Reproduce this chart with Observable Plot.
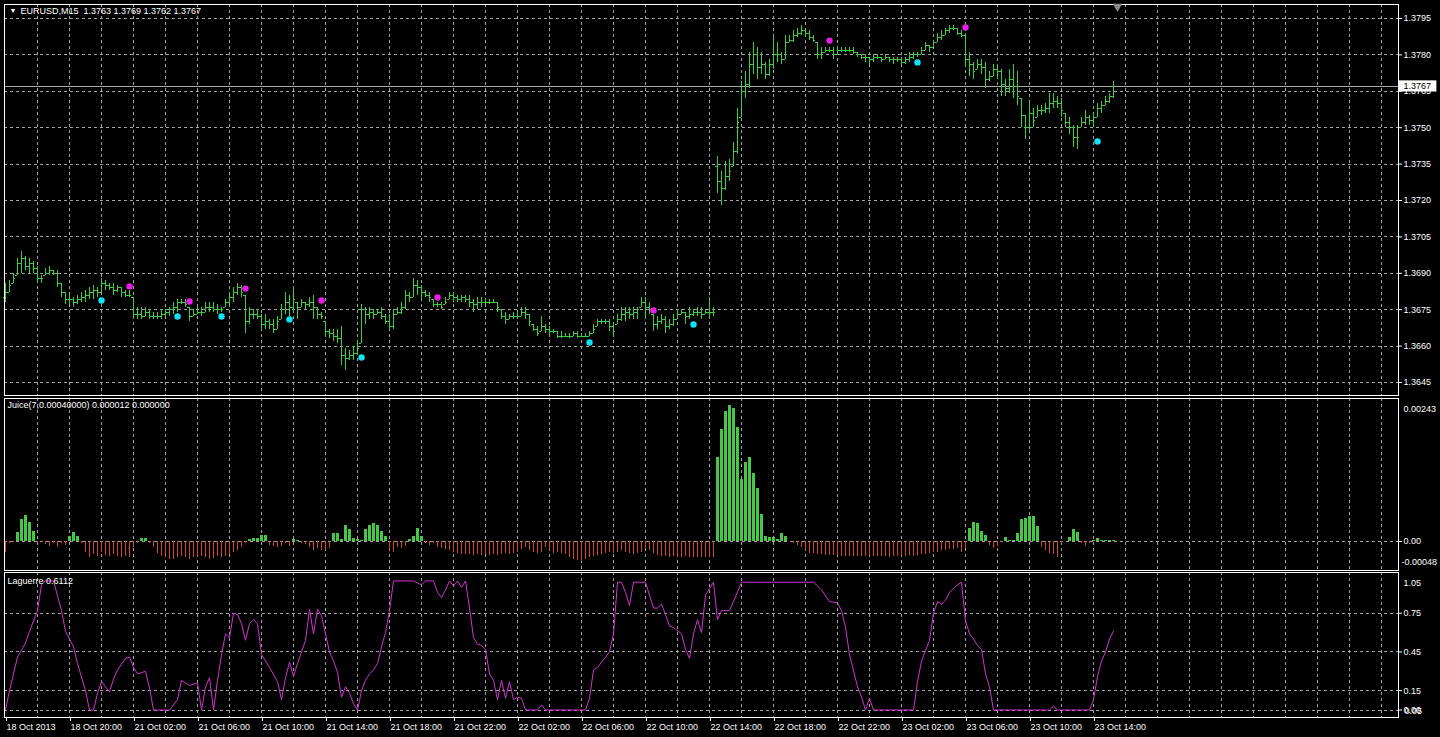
<!DOCTYPE html>
<html><head><meta charset="utf-8">
<script src="https://cdn.jsdelivr.net/npm/d3@7"></script>
<script src="https://cdn.jsdelivr.net/npm/@observablehq/plot@0.6"></script>
<style>
html,body{margin:0;padding:0;background:#000;}
#chart{position:relative;width:1440px;height:737px;background:#000;overflow:hidden;}
#chart svg{position:absolute;left:0;}
</style></head><body><div id="chart"></div>
<script>
// ---------------- DATA ----------------
// Prices are stored as pips above 1.3600 (e.g. 95 -> 1.3695)
const PIP_BASE = 1.36;
const symbolTitle = "EURUSD,M15";
const headerOHLC = ["1.3763", "1.3769", "1.3762", "1.3767"];

const opens = [
80,82,86,89,94,96,93,94,92,88, 89,90,91,90,86,82,79,79,78,79,
80,81,82,83,82,86,85,84,83,84, 82,81,80,73,73,72,74,72,72,72,
73,74,75,76,78,78,76,72,73,74, 74,76,76,75,75,76,78,80,82,84,
81,70,73,73,72,69,70,69,67,71, 75,78,76,78,76,78,77,78,76,73,
70,66,65,64,63,56,55,56,57,61, 75,73,74,73,74,72,70,68,73,74,
76,81,80,85,84,82,81,79,77,77, 77,79,81,80,79,80,79,78,77,78,
78,78,78,78,75,72,71,72,72,72, 74,73,69,67,66,68,67,66,66,64,
64,64,64,65,64,64,64,65,68,70, 70,70,68,69,71,73,74,73,74,76,
78,76,73,69,70,71,68,69,71,73, 74,72,73,74,74,73,74,74,134,128,
125,130,134,140,154,165,168,176,180,175, 176,172,176,180,180,178,185,186,188,189,
190,189,187,185,180,181,182,182,180,182, 182,182,182,181,180,179,179,178,179,179,
178,179,178,178,178,177,178,179,180,180, 182,184,183,185,187,188,190,191,191,189,
188,178,176,174,176,175,170,171,174,173, 168,166,170,167,162,155,150,156,154,157,
157,158,160,161,160,156,152,150,146,150, 152,154,153,154,158,159,161,163];

const highs = [
86,87,90,96,99,97,96,95,93,89, 92,93,91,91,86,82,81,80,81,82,
83,84,85,84,88,87,86,86,85,84, 83,83,80,76,76,76,75,74,74,75,
75,76,78,79,79,79,76,75,76,76, 78,78,78,77,76,79,82,84,86,85,
81,76,75,75,73,73,71,71,72,77, 82,81,84,78,79,78,80,81,76,74,
70,67,67,67,68,59,58,60,62,77, 76,76,75,75,76,73,73,75,76,78,
83,82,88,87,85,83,82,79,78,78, 80,82,82,81,81,81,81,79,80,80,
79,79,79,78,75,74,73,74,74,76, 76,73,69,68,72,69,68,67,66,66,
65,65,66,66,65,65,66,69,71,71, 71,71,69,73,76,76,76,76,76,80,
80,78,73,72,73,72,71,73,75,75, 74,76,75,76,76,75,80,76,138,132,
136,137,144,158,169,173,181,185,183,181, 177,178,188,185,181,188,188,190,191,192,
190,190,188,185,183,183,183,183,183,183, 183,183,183,181,180,180,179,180,180,179,
180,179,179,179,179,179,181,181,181,183, 185,184,186,189,190,191,192,192,191,190,
189,181,177,178,178,177,173,176,176,174, 170,174,176,173,162,155,161,158,159,159,
160,164,164,163,162,156,154,151,151,154, 157,155,156,160,161,163,164,169];

const lows = [
78,82,86,89,90,91,90,90,86,86, 89,89,89,84,80,77,77,76,77,78,
78,79,79,80,82,83,83,81,82,80, 80,80,71,71,71,72,71,71,71,71,
72,72,73,74,77,76,70,72,73,72, 74,74,74,73,74,76,77,78,81,80,
65,69,71,71,67,67,67,65,67,71, 73,72,74,71,76,75,76,71,71,71,
64,63,62,61,52,50,54,54,56,61, 69,71,71,73,71,69,67,67,73,73,
75,78,80,81,79,80,78,76,76,75, 77,79,78,78,78,78,76,74,75,76,
77,77,78,74,71,69,71,71,71,72, 71,68,66,64,66,65,64,65,63,63,
64,63,64,63,64,64,64,65,68,69, 69,66,64,69,70,70,71,71,71,76,
71,73,66,67,69,65,67,68,71,73, 69,71,72,72,71,73,71,72,123,118,
124,128,134,139,154,162,166,172,170,172, 170,171,174,177,176,178,185,185,187,188,
187,186,185,178,178,181,181,178,180,181, 181,181,180,179,178,177,176,177,178,177,
178,177,176,177,176,176,177,178,179,180, 182,181,183,185,186,188,189,190,188,187,
175,171,170,174,172,166,169,171,170,163, 163,164,162,159,150,145,149,150,154,155,
156,156,158,158,154,150,147,142,141,150, 151,151,150,154,156,159,160,162];

const closes = [
82,85,88,94,96,93,94,92,88,88, 90,91,90,86,82,79,79,78,79,80,
81,82,83,82,86,85,84,83,84,82, 81,81,73,73,72,74,72,72,72,73,
74,75,76,78,78,77,72,73,74,74, 76,76,75,75,75,78,80,82,84,82,
70,73,73,72,69,70,69,67,70,75, 78,76,79,76,78,77,78,76,73,72,
66,65,64,63,56,55,56,57,59,75, 73,74,73,74,72,70,68,73,74,76,
81,80,85,84,82,81,80,77,77,76, 78,81,80,79,80,79,78,77,78,78,
78,78,78,76,72,71,72,72,72,74, 73,70,67,65,68,67,66,66,64,64,
64,64,65,64,64,64,65,67,70,70, 70,68,66,71,73,74,73,74,75,78,
76,75,69,70,71,68,69,71,73,74, 72,73,74,74,73,74,74,74,128,125,
130,132,140,152,165,168,176,180,175,176, 172,176,180,180,178,185,186,188,189,190,
189,187,186,180,181,182,182,180,182,182, 182,182,181,180,179,179,178,179,179,178,
179,178,178,178,177,178,179,180,180,182, 184,183,185,187,188,190,191,191,189,188,
178,176,173,176,175,170,171,174,173,168, 166,170,167,163,155,150,156,153,157,157,
158,160,161,160,157,152,150,146,146,152, 154,153,154,158,159,161,163,167];

// Signal dots (bar index, price in pips)
const sellDotBars = [31, 46, 60, 79, 108, 162, 206, 240];
const sellDotPrices = [84.6, 78.4, 83.7, 78.8, 80.0, 74.7, 185.9, 191.3];
const buyDotBars = [24, 43, 54, 71, 89, 146, 172, 228, 273];
const buyDotPrices = [78.8, 72.2, 72.2, 71.0, 55.3, 61.5, 68.9, 176.9, 144.3];

// Juice histogram, units of 0.00001
const juice = [
-18,-4,-1,15,37,44,32,18,-3,-2, -5,-8,-3,-10,-4,-6,9,16,8,-3,
-18,-28,-22,-26,-18,-24,-26,-22,-26,-28, -26,-28,-10,-3,6,5,-4,-10,-20,-25,
-28,-30,-30,-28,-26,-28,-30,-28,-25,-26, -28,-30,-29,-26,-28,-25,-22,-18,-15,-10,
-4,4,6,6,10,10,-6,-8,-10,-8, -4,-8,4,2,-3,-5,-10,-15,-12,-16,
-15,-12,13,13,3,28,20,6,4,2, 21,27,30,27,18,9,-15,-18,-10,-12,
-8,4,9,22,9,-3,-6,-4,-10,-12, -14,-16,-18,-20,-22,-22,-22,-24,-22,-24,
-22,-24,-22,-24,-22,-20,-22,-20,-18,-14, -10,-16,-18,-20,-18,-10,-16,-20,-18,-20,
-22,-28,-30,-32,-34,-30,-28,-26,-24,-22, -20,-18,-20,-18,-16,-18,-20,-22,-20,-18,
-14,-16,-20,-24,-26,-26,-28,-26,-28,-28, -26,-28,-28,-28,-28,-28,-28,-28,144,192,
223,232,227,196,106,135,144,117,90,46, 9,7,7,3,13,9,0,-3,-6,-10,
-16,-20,-20,-22,-22,-24,-24,-24,-24,-26, -26,-26,-26,-26,-26,-26,-26,-26,-26,-26,
-26,-28,-26,-26,-26,-26,-24,-26,-24,-22, -22,-20,-18,-18,-16,-16,-14,-14,-12,-18,
-12,23,33,30,18,10,-6,-12,-8,-2, 7,1,1,14,38,39,42,42,26,-10,
-16,-20,-22,-28,-3,0,7,20,16,-3, -8,-3,1,6,1,2,1,2];

// Laguerre line vertices (bar index, value)
const lagBars = [0,1,3,5,6,8,9,10,12,14,15,17,18,20,21,22,23,24,26,27,28,30,31,32,33,34,35,36,37,41,43,44,46,48,49,50,51,52,53,54,55,56,57,58,59,60,61,62,63,64,66,68,69,70,71,72,73,75,76,77,78,79,80,81,82,83,84,85,86,87,88,89,90,91,92,93,94,95,96,97,102,104,105,107,108,109,110,111,112,113,114,115,116,117,118,119,120,121,122,123,124,125,126,127,128,129,130,133,134,135,145,146,147,148,149,150,151,152,153,154,155,156,157,160,161,162,163,164,165,166,167,169,170,171,172,173,174,175,176,177,178,179,181,182,184,202,204,206,208,209,210,211,213,214,215,216,217,227,228,229,231,232,233,234,235,236,238,239,240,241,242,243,244,245,246,247,261,262,263,271,272,273,274,275,276,277];
const lagValues = [0,0.15,0.41,0.52,0.61,0.77,0.97,1.0,1.0,0.77,0.61,0.49,0.36,0.15,0,0,0.13,0.22,0.14,0.24,0.31,0.40,0.41,0.33,0.28,0.29,0.30,0.17,0,0,0.08,0.23,0.19,0.21,0,0.18,0.25,0,0.23,0.43,0.59,0.56,0.75,0.74,0.67,0.54,0.67,0.70,0.67,0.43,0.33,0.22,0.08,0.25,0.37,0.26,0.36,0.54,0.78,0.59,0.78,0.73,0.59,0.45,0.38,0.29,0.10,0.18,0.13,0.05,0,0.15,0.23,0.28,0.31,0.36,0.49,0.60,0.77,1.0,1.0,0.97,1.0,1.0,0.91,0.87,0.93,1.0,0.96,1.0,0.95,1.0,0.79,0.56,0.51,0.50,0.47,0.28,0.23,0.08,0.23,0.09,0.22,0.08,0.10,0.09,0,0,0.04,0,0,0.09,0.31,0.33,0.37,0.41,0.45,0.59,0.99,0.99,0.91,0.81,0.99,0.99,0.89,0.79,0.79,0.82,0.74,0.65,0.64,0.59,0.47,0.40,0.59,0.70,0.60,0.89,0.94,0.99,0.70,0.77,0.77,0.84,0.99,0.99,0.93,0.84,0.83,0.77,0.64,0.43,0.18,0.10,0,0.09,0,0,0.22,0.38,0.54,0.75,0.84,0.82,0.85,0.91,0.97,0.99,0.69,0.59,0.55,0.50,0.47,0.28,0.18,0,0,0.03,0,0,0.08,0.26,0.38,0.45,0.55,0.61];

// Axis tick labels
const priceTickLabels = ["1.3645","1.3660","1.3675","1.3690","1.3705","1.3720","1.3735","1.3750","1.3765","1.3780","1.3795"];
const lagLevels = [0.75, 0.45, 0.15, 0];
const timeLabelBars = [0,16,32,48,64,80,96,112,128,144,160,176,192,208,224,240,256,272];
const timeLabels = ["18 Oct 2013","18 Oct 20:00","21 Oct 02:00","21 Oct 06:00","21 Oct 10:00","21 Oct 14:00","21 Oct 18:00","21 Oct 22:00","22 Oct 02:00","22 Oct 06:00","22 Oct 10:00","22 Oct 14:00","22 Oct 18:00","22 Oct 22:00","23 Oct 02:00","23 Oct 06:00","23 Oct 10:00","23 Oct 14:00"];
const juiceLabel = "Juice(7,0.00040000) 0.000012 0.000000";
const lagLabel = "Laguerre 0.6112";
const juiceMaxLabel = "0.00243", juiceZeroLabel = "0.00", juiceMinLabel = "-0.00048";
const lagMaxLabel = "1.05";

// ---------------- STYLE ----------------
const W = 1440;
const X_DOMAIN = [-0.25, 348.25];
const GRID = "#a3a3a3";
const BAR_GREEN = "#40cc40";
const HIST_GREEN = "#46c846";
const HIST_RED = "#cc4a28";
const LAG_COLOR = "#d035d0";
const SELL_DOT = "#e61ee6";
const BUY_DOT = "#10e4f4";
const FONT = "'Liberation Sans', Arial, sans-serif";
const FS = 9;
const style = {background: "transparent", color: "#ffffff", fontFamily: FONT, fontSize: FS + "px", overflow: "visible"};
const margins = {marginLeft: 4, marginRight: 42};
const crisp = {shapeRendering: "crispEdges"};

const fmtPrice = p => (PIP_BASE + p / 10000).toFixed(4);
const priceTicks = priceTickLabels.map(s => Math.round((+s - PIP_BASE) * 10000));
const nBars = closes.length;
const gridBars = d3.range(8, X_DOMAIN[1], 8);
const lastClose = closes[nBars - 1];

const bars = closes.map((c, i) => ({i, o: opens[i], h: highs[i], l: lows[i], c}));
const sellDots = sellDotBars.map((b, k) => ({i: b, p: sellDotPrices[k]}));
const buyDots = buyDotBars.map((b, k) => ({i: b, p: buyDotPrices[k]}));
const juiceData = juice.map((v, i) => ({i, v}));
const lag = lagBars.map((b, k) => ({i: b, v: lagValues[k]}));

const vGrid = () => Plot.ruleX(gridBars, {stroke: GRID, strokeDasharray: "3,3", ...crisp});
const rightX = () => X_DOMAIN[1];

const chart = document.getElementById("chart");
function place(svg, top) { svg.style.top = top + "px"; chart.append(svg); }

// ---------------- PRICE PANEL ----------------
const p1 = Plot.plot({
  width: W, height: 398, marginTop: 4, marginBottom: 3, ...margins, style,
  x: {domain: X_DOMAIN, axis: null},
  y: {domain: [39.64, 200.77], axis: null},
  marks: [
    vGrid(),
    Plot.ruleY(priceTicks, {stroke: GRID, strokeDasharray: "3,3", ...crisp}),
    Plot.ruleY([lastClose], {stroke: "#a8a8a8", ...crisp}),
    Plot.ruleX(bars, {x: "i", y1: "l", y2: "h", stroke: BAR_GREEN, ...crisp}),
    Plot.ruleY(bars, {y: "o", x1: d => d.i - 0.5, x2: "i", stroke: BAR_GREEN, ...crisp}),
    Plot.ruleY(bars, {y: "c", x1: "i", x2: d => d.i + 0.5, stroke: BAR_GREEN, ...crisp}),
    Plot.dot(sellDots, {x: "i", y: "p", r: 3.2, fill: SELL_DOT}),
    Plot.dot(buyDots, {x: "i", y: "p", r: 3.2, fill: BUY_DOT}),
    Plot.frame({stroke: "white", ...crisp}),
    Plot.axisY({anchor: "right", ticks: priceTicks, tickFormat: fmtPrice, tickSize: 3, tickPadding: 2, fontSize: FS, label: null}),
    Plot.rect([lastClose], {x1: () => X_DOMAIN[1] + 0.1, x2: () => X_DOMAIN[1] + 9.6, y1: d => d - 2.3, y2: d => d + 2.3, fill: "white"}),
    Plot.text([lastClose], {x: rightX, y: d => d, text: d => fmtPrice(d), dx: 5, textAnchor: "start", fill: "black", fontSize: FS}),
    Plot.text(["\u25BC"], {frameAnchor: "top-left", dx: 5, dy: 4, lineAnchor: "top", textAnchor: "start", fill: "white", fontSize: 7}),
    Plot.text([symbolTitle + "\u00a0\u00a0" + headerOHLC.join(" ")], {frameAnchor: "top-left", dx: 16, dy: 3, lineAnchor: "top", textAnchor: "start", fill: "white", fontSize: FS}),
    Plot.dot([nBars], {x: d => d, frameAnchor: "top", dy: 2, symbol: "triangle", rotate: 180, r: 3.5, fill: "#8c8c8c"})
  ]
});
place(p1, 0);

// ---------------- JUICE PANEL ----------------
const p2 = Plot.plot({
  width: W, height: 174, marginTop: 1, marginBottom: 1, ...margins, style,
  x: {domain: X_DOMAIN, axis: null},
  y: {domain: [-49.6, 244.8], axis: null},
  marks: [
    vGrid(),
    Plot.ruleY([0], {stroke: GRID, strokeDasharray: "3,3", ...crisp}),
    Plot.ruleX(juiceData.filter(d => d.v < 0), {x: "i", y1: 0, y2: "v", stroke: HIST_RED, strokeWidth: 1, ...crisp}),
    Plot.ruleX(juiceData.filter(d => d.v > 0), {x: "i", y1: 0, y2: "v", stroke: HIST_GREEN, strokeWidth: 3, ...crisp}),
    Plot.frame({stroke: "white", ...crisp}),
    Plot.axisY({anchor: "right", ticks: [0], tickFormat: () => juiceZeroLabel, tickSize: 3, tickPadding: 2, fontSize: FS, label: null}),
    Plot.text([juiceMaxLabel], {x: rightX, frameAnchor: "top", dx: 5, dy: 7, textAnchor: "start", fill: "white", fontSize: FS}),
    Plot.text([juiceMinLabel], {x: rightX, frameAnchor: "bottom", dx: 3, dy: -6, textAnchor: "start", fill: "white", fontSize: FS}),
    Plot.text([juiceLabel], {frameAnchor: "top-left", dx: 3, dy: 3, lineAnchor: "top", textAnchor: "start", fill: "white", fontSize: FS})
  ]
});
place(p2, 397);

// ---------------- LAGUERRE PANEL ----------------
const p3 = Plot.plot({
  width: W, height: 166, marginTop: 1, marginBottom: 20, ...margins, style,
  x: {domain: X_DOMAIN, axis: null},
  y: {domain: [-0.0581, 1.0653], axis: null},
  marks: [
    vGrid(),
    Plot.ruleY(lagLevels, {stroke: GRID, strokeDasharray: "3,3", ...crisp}),
    Plot.line(lag, {x: "i", y: "v", stroke: LAG_COLOR, strokeWidth: 1}),
    Plot.frame({stroke: "white", ...crisp}),
    Plot.axisY({anchor: "right", ticks: lagLevels, tickFormat: d => d.toFixed(2), tickSize: 3, tickPadding: 2, fontSize: FS, label: null}),
    Plot.text([(0.05).toFixed(2)], {x: rightX, y: 0, dx: 6, dy: 1, textAnchor: "start", fill: "white", fontSize: FS}),
    Plot.text([lagMaxLabel], {x: rightX, frameAnchor: "top", dx: 5, dy: 7, textAnchor: "start", fill: "white", fontSize: FS}),
    Plot.text([lagLabel], {frameAnchor: "top-left", dx: 3, dy: 5, lineAnchor: "top", textAnchor: "start", fill: "white", fontSize: FS}),
    Plot.axisX({anchor: "bottom", ticks: timeLabelBars, tickFormat: d => timeLabels[timeLabelBars.indexOf(d)], tickSize: 4, tickPadding: 2, textAnchor: "start", dx: 1, fontSize: FS, label: null})
  ]
});
place(p3, 571);
</script>
</body></html>
